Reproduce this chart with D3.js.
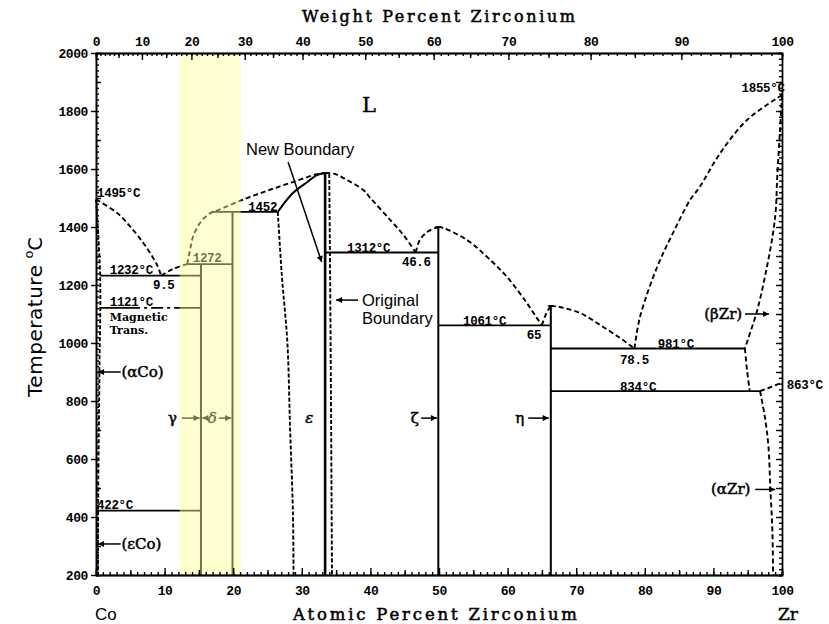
<!DOCTYPE html>
<html>
<head>
<meta charset="utf-8">
<script src="https://cdn.jsdelivr.net/npm/d3@7"></script>
<style>
  body { margin: 0; background: #fff; }
</style>
</head>
<body>
<script>
// axis ticks
const atTicks = d3.range(0, 101, 10)
const wtTicks = d3.range(0, 101, 10)
const tempTicks = d3.range(200, 2001, 200)

// phase boundaries [at% Zr, T degC]
const coLiquidus = [[0,1495],[3.1,1448],[5.4,1390],[7.4,1328],[8.9,1269],[9.5,1232]]
const gammaLiq1 = [[9.5,1232],[11.2,1255],[13.3,1272]]
const gammaLiq2 = [[13.3,1272],[13.7,1320],[14.2,1370],[15.2,1415],[16.6,1447],[17.8,1458],[21.7,1497],[25.2,1527],[28.7,1555],[32.2,1582],[33.3,1586]]
const newBoundary = [[26.5,1452],[28.7,1517],[30.8,1555],[32.2,1579],[33.3,1586]]
const epsLeft = [[26.5,1452],[27.1,1230],[27.9,1000],[28.3,700],[28.7,420],[28.8,200]]
const epsRight = [[34.0,1582],[34.2,1000],[34.4,200]]
const epsLiquidus = [[33.4,1586],[34.8,1583],[36.6,1562],[39.0,1527],[40.0,1500],[42.9,1424],[44.9,1370],[46.6,1312]]
const zetaLeft = [[46.6,1312],[47.2,1355],[48.4,1385],[49.9,1400]]
const zetaRight = [[49.9,1400],[50.6,1397],[54.1,1355],[57.0,1297],[59.9,1228],[62.8,1138],[64.3,1085],[65,1061]]
const etaLeft = [[65,1061],[65.6,1100],[66.3,1128]]
const etaRight = [[66.3,1128],[67.6,1124],[70.6,1103],[73.5,1062],[76.4,1017],[78.1,988],[78.5,981]]
const zrLiquidus = [[78.5,981],[79.3,1090],[81.8,1262],[84.1,1379],[86.6,1493],[88.0,1538],[91.0,1655],[94.9,1769],[100,1855]]
const betaSolidus = [[100,1855],[99.7,1730],[99.3,1570],[99.1,1460],[98.7,1380],[97.8,1262],[96.4,1114],[95.0,1010],[94.6,981]]
const betaEutectoid = [[94.6,981],[94.9,907],[95.3,834]]
const alphaZr = [[96.8,834],[97.5,745],[98.0,650],[98.3,500],[98.6,350],[98.7,200]]
const alphaBeta = [[96.8,834],[100,863]]
const coSolvus = [[0,1495],[0.6,1232],[0.5,900],[0.3,422],[0.3,200]]

// isotherms [T, from at%, to at%]
const isotherms = [[1232,0.6,15.3],[422,0,15.3],[1272,13.3,19.9],[1452,16.8,26.5],
  [1312,33.4,49.9],[1061,49.9,66.3],[981,66.3,94.6],[834,66.3,96.8]]
const magnetic = [1121, 0.6, 15.3]

// line compounds [at%, top T]
const compounds = [[15.3,1272],[19.9,1452],[33.4,1586],[49.9,1400],[66.3,1128]]
const highlight = [12.2, 21.1]

// temperature labels [at%, T, text]
const tempLabels = [
  [0.15,1503,'1495°C'],[2.0,1238,'1232°C'],[8.3,1186,'9.5'],[2.0,1128,'1121°C'],
  [14.1,1279,'1272'],[22.2,1456,'1452'],[36.6,1315,'1312°C'],[44.6,1265,'46.6'],
  [53.5,1063,'1061°C'],[62.8,1014,'65'],[81.9,984,'981°C'],[76.4,928,'78.5'],
  [76.4,836,'834°C'],[100.7,841,'863°C'],[0.15,428,'422°C']
]
const magLabels = [[2.0,1076,'Magnetic'],[2.0,1031,'Trans.']]
// phase labels [at%, T, text, anchor]
const phaseLabels = [
  [3.7,900,'(αCo)','start'],[3.7,307,'(εCo)','start'],[94.2,1100,'(βZr)','end'],
  [95.4,495,'(αZr)','end'],[10.5,741,'γ','start'],[16.3,741,'δ','start'],
  [30.5,741,'ε','start'],[45.9,741,'ζ','start'],[61.1,741,'η','start']
]
const arrows = [
  [[3.6,900],[0.3,900]],[[3.6,307],[0.3,307]],[[94.6,1100],[98.1,1100]],[[96.1,495],[99.0,495]],
  [[12.5,741],[15.1,741]],[[16.2,741],[15.5,741]],[[17.9,741],[19.7,741]],
  [[47.4,741],[49.7,741]],[[63.0,741],[66.0,741]],
  [[28.0,1624],[32.9,1279]],[[38.2,1148],[35.0,1148]]
]

const m = { width: 829, height: 624, left: 96, right: 782, top: 53, bottom: 575 }

const svg = d3.select('body').append('svg')
  .attr('width', m.width)
  .attr('height', m.height)

const x = d3.scaleLinear().domain([0, 100]).range([m.left, m.right])
const y = d3.scaleLinear().domain([200, 2000]).range([m.bottom, m.top])

// weight % Zr -> atomic % Zr
const wtToAt = w => {
  const zr = w / 91.224, co = (100 - w) / 58.933
  return 100 * zr / (zr + co)
}

const defs = svg.append('defs')
defs.append('marker')
  .attr('id', 'head')
  .attr('viewBox', '0 0 10 10')
  .attr('refX', 10).attr('refY', 5)
  .attr('markerWidth', 8).attr('markerHeight', 6)
  .attr('markerUnits', 'userSpaceOnUse')
  .attr('orient', 'auto')
  .append('path').attr('d', 'M0,0L10,5L0,10Z').attr('fill', '#000')

const g = svg.append('g')

const smooth = d3.line().x(d => x(d[0])).y(d => y(d[1])).curve(d3.curveCatmullRom.alpha(0.5))
const straight = d3.line().x(d => x(d[0])).y(d => y(d[1]))

const dashed = [coLiquidus, gammaLiq1, gammaLiq2, epsLiquidus, zetaLeft, zetaRight,
  etaLeft, etaRight, zrLiquidus, betaSolidus, betaEutectoid, alphaZr, alphaBeta]

g.selectAll('.liq')
  .data(dashed)
  .enter()
  .append('path')
    .attr('d', smooth)
    .attr('fill', 'none')
    .attr('stroke', '#000')
    .attr('stroke-width', 1.9)
    .attr('stroke-dasharray', '5,3')

g.selectAll('.bnd')
  .data([epsLeft, epsRight, coSolvus])
  .enter()
  .append('path')
    .attr('d', smooth)
    .attr('fill', 'none')
    .attr('stroke', '#000')
    .attr('stroke-width', 1.9)
    .attr('stroke-dasharray', '4,2')

g.append('path')
  .attr('d', smooth(newBoundary))
  .attr('fill', 'none')
  .attr('stroke', '#000')
  .attr('stroke-width', 2)

g.selectAll('.iso')
  .data(isotherms)
  .enter()
  .append('line')
    .attr('x1', d => x(d[1]))
    .attr('x2', d => x(d[2]))
    .attr('y1', d => y(d[0]))
    .attr('y2', d => y(d[0]))
    .attr('stroke', '#000')
    .attr('stroke-width', 1.8)

g.append('line')
  .attr('x1', x(magnetic[1])).attr('x2', x(magnetic[2]))
  .attr('y1', y(magnetic[0])).attr('y2', y(magnetic[0]))
  .attr('stroke', '#000')
  .attr('stroke-width', 1.8)
  .attr('stroke-dasharray', '40,4,3,4,12,4,3,4,60')

g.selectAll('.cmp')
  .data(compounds)
  .enter()
  .append('line')
    .attr('x1', d => x(d[0]))
    .attr('x2', d => x(d[0]))
    .attr('y1', d => y(d[1]))
    .attr('y2', y(200))
    .attr('stroke', '#000')
    .attr('stroke-width', (d, i) => i == 2 ? 2.6 : 2)

// small caps on congruent maxima
g.selectAll('.cap')
  .data(compounds.slice(2))
  .enter()
  .append('line')
    .attr('x1', d => x(d[0]) - 3)
    .attr('x2', d => x(d[0]) + 3)
    .attr('y1', d => y(d[1]))
    .attr('y2', d => y(d[1]))
    .attr('stroke', '#000')
    .attr('stroke-width', 1.5)

g.selectAll('.arr')
  .data(arrows)
  .enter()
  .append('path')
    .attr('d', straight)
    .attr('stroke', '#000')
    .attr('stroke-width', 1.5)
    .attr('marker-end', 'url(#head)')

const num = "'Liberation Mono', monospace"
g.selectAll('.tl')
  .data(tempLabels)
  .enter()
  .append('text')
    .attr('x', d => x(d[0]))
    .attr('y', d => y(d[1]))
    .attr('font-family', num)
    .attr('font-weight', 'bold')
    .attr('font-size', 12.5)
    .attr('letter-spacing', -0.3)
    .text(d => d[2])

g.append('text')
  .attr('x', x(100.4)).attr('y', y(1866))
  .attr('text-anchor', 'end')
  .attr('font-family', num).attr('font-weight', 'bold')
  .attr('font-size', 12.5).attr('letter-spacing', -0.3)
  .text('1855°C')

g.selectAll('.ml')
  .data(magLabels)
  .enter()
  .append('text')
    .attr('x', d => x(d[0]))
    .attr('y', d => y(d[1]))
    .attr('font-family', "'DejaVu Serif', serif")
    .attr('font-weight', 'bold')
    .attr('font-size', 11)
    .text(d => d[2])

g.selectAll('.pl')
  .data(phaseLabels)
  .enter()
  .append('text')
    .attr('x', d => x(d[0]))
    .attr('y', d => y(d[1]))
    .attr('dy', '0.32em')
    .attr('text-anchor', d => d[3])
    .attr('font-family', "'DejaVu Serif', serif")
    .attr('font-size', 15)
    .attr('stroke', 'currentColor')
    .attr('stroke-width', 0.5)
    .attr('font-style', d => d[2] == 'δ' || d[2] == 'ε' ? 'italic' : 'normal')
    .text(d => d[2])

g.append('text')
  .attr('x', 362).attr('y', 112)
  .attr('font-family', "'DejaVu Serif', serif")
  .attr('font-size', 21)
  .attr('stroke', '#000').attr('stroke-width', 0.4)
  .text('L')

const sans = "'Liberation Sans', Arial, sans-serif"
g.append('text').attr('x', 246).attr('y', 155)
  .attr('font-family', sans).attr('font-size', 16.5).text('New Boundary')
g.append('text').attr('x', 362).attr('y', 306)
  .attr('font-family', sans).attr('font-size', 16.5).text('Original')
g.append('text').attr('x', 362).attr('y', 324)
  .attr('font-family', sans).attr('font-size', 16.5).text('Boundary')

// yellow highlight over the drawing
svg.append('rect')
  .attr('x', x(highlight[0]))
  .attr('width', x(highlight[1]) - x(highlight[0]))
  .attr('y', m.top)
  .attr('height', m.bottom - m.top)
  .attr('fill', 'rgb(255,255,150)')
  .attr('opacity', 0.45)

// axes
const axisStyle = sel => {
  sel.selectAll('path, line').attr('stroke', '#000').attr('stroke-width', 1.4)
  sel.selectAll('text').attr('font-family', num).attr('font-weight', 'bold')
    .attr('font-size', 13).attr('fill', '#000').attr('letter-spacing', -0.4)
}

svg.append('g').attr('transform', `translate(0,${m.bottom})`)
  .call(d3.axisBottom(x).tickValues(d3.range(0, 101, 1)).tickSize(-3).tickFormat('')).call(axisStyle)
svg.append('g').attr('transform', `translate(0,${m.bottom})`)
  .call(d3.axisBottom(x).tickValues(d3.range(5, 100, 10)).tickSize(-5).tickFormat('')).call(axisStyle)
svg.append('g').attr('transform', `translate(0,${m.bottom})`)
  .call(d3.axisBottom(x).tickValues(atTicks).tickSizeInner(-7).tickSizeOuter(0)
    .tickPadding(11).tickFormat(d3.format('d'))).call(axisStyle)

svg.append('g').attr('transform', `translate(0,${m.top})`)
  .call(d3.axisTop(x).tickValues(d3.range(0, 101, 1).map(wtToAt)).tickSize(-3).tickFormat('')).call(axisStyle)
svg.append('g').attr('transform', `translate(0,${m.top})`)
  .call(d3.axisTop(x).tickValues(d3.range(5, 100, 10).map(wtToAt)).tickSize(-5).tickFormat('')).call(axisStyle)
svg.append('g').attr('transform', `translate(0,${m.top})`)
  .call(d3.axisTop(x).tickValues(wtTicks.map(wtToAt)).tickSizeInner(-7).tickSizeOuter(0)
    .tickPadding(7).tickFormat((d, i) => wtTicks[i])).call(axisStyle)

svg.append('g').attr('transform', `translate(${m.left},0)`)
  .call(d3.axisLeft(y).tickValues(d3.range(200, 2001, 20)).tickSize(-3).tickFormat('')).call(axisStyle)
svg.append('g').attr('transform', `translate(${m.left},0)`)
  .call(d3.axisLeft(y).tickValues(d3.range(300, 2000, 200)).tickSize(-5).tickFormat('')).call(axisStyle)
svg.append('g').attr('transform', `translate(${m.left},0)`)
  .call(d3.axisLeft(y).tickValues(tempTicks).tickSizeInner(5).tickSizeOuter(0)
    .tickPadding(3).tickFormat(d3.format('d'))).call(axisStyle)

svg.append('g').attr('transform', `translate(${m.right},0)`)
  .call(d3.axisRight(y).tickValues(d3.range(200, 2001, 20)).tickSize(-3).tickFormat('')).call(axisStyle)
svg.append('g').attr('transform', `translate(${m.right},0)`)
  .call(d3.axisRight(y).tickValues(d3.range(200, 2001, 100)).tickSize(-6).tickSizeOuter(0).tickFormat('')).call(axisStyle)

// titles
const serif = "'DejaVu Serif', serif"
svg.append('text').attr('x', 302).attr('y', 22)
  .attr('font-family', serif).attr('font-size', 16)
  .attr('stroke', '#000').attr('stroke-width', 0.5)
  .attr('textLength', 273).attr('lengthAdjust', 'spacing')
  .text('Weight Percent Zirconium')
svg.append('text').attr('x', 293).attr('y', 620)
  .attr('font-family', serif).attr('font-size', 16.5)
  .attr('stroke', '#000').attr('stroke-width', 0.5)
  .attr('textLength', 284).attr('lengthAdjust', 'spacing')
  .text('Atomic Percent Zirconium')
svg.append('text').attr('x', 95).attr('y', 620)
  .attr('font-family', sans).attr('font-size', 17).text('Co')
svg.append('text').attr('x', 778).attr('y', 620)
  .attr('font-family', serif).attr('font-size', 17)
  .attr('stroke', '#000').attr('stroke-width', 0.4).text('Zr')

const ylab = svg.append('text')
  .attr('transform', 'translate(42,397) rotate(-90)')
  .attr('font-family', "'DejaVu Sans', sans-serif")
  .attr('font-size', 20)
ylab.append('tspan').attr('textLength', 132).attr('lengthAdjust', 'spacing').text('Temperature')
ylab.append('tspan').attr('dx', 6).attr('dy', -9).attr('font-size', 13).text('o')
ylab.append('tspan').attr('dy', 9).attr('font-size', 19).text('C')
</script>
</body>
</html>
